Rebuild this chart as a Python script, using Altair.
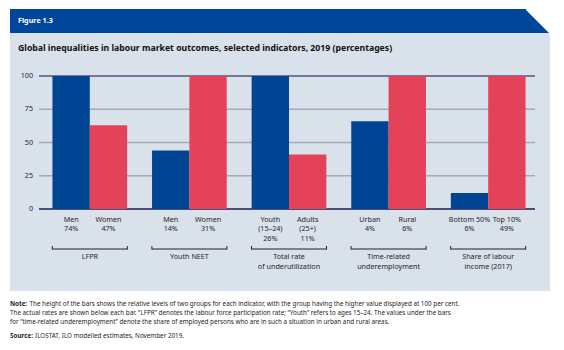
import altair as alt
import pandas as pd

# ---- data ----
groups = ["LFPR", "Youth NEET", "Underutilization", "Time-related", "Labour income"]
group_labels = ["LFPR", "Youth NEET", "Total rate\nof underutilization",
                "Time-related\nunderemployment", "Share of labour\nincome (2017)"]
bar_group = ["LFPR", "LFPR", "Youth NEET", "Youth NEET", "Underutilization", "Underutilization",
             "Time-related", "Time-related", "Labour income", "Labour income"]
bar_side = ["A", "B"] * 5
bar_height = [100, 63, 44, 100, 100, 41, 66, 100, 12, 100]
bar_label = ["Men\n74%", "Women\n47%", "Men\n14%", "Women\n31%",
             "Youth\n(15–24)\n26%", "Adults\n(25+)\n11%", "Urban\n4%", "Rural\n6%",
             "Bottom 50%\n6%", "Top 10%\n49%"]
y_ticks = [0, 25, 50, 75, 100]

bars_df = pd.DataFrame({"group": bar_group, "side": bar_side,
                        "value": bar_height, "label": bar_label})
groups_df = pd.DataFrame({"group": groups, "glabel": group_labels})
ticks_df = pd.DataFrame({"tick": y_ticks})

FONT = "Noto Sans"
PANEL = "#d9e1ea"
BANNER = "#00479b"
BLUE = "#004494"
RED = "#e44258"
TXT = "#262626"

xscale = alt.Scale(domain=groups, range=[40, 538], paddingInner=0.25, paddingOuter=0.125)
yscale = alt.Scale(domain=[0, 100], range=[209, 76])
X = alt.X("group:N", scale=xscale, axis=None)
XO = alt.XOffset("side:N", scale=alt.Scale(domain=["A", "B"], paddingInner=0, paddingOuter=0))
Y = alt.Y("value:Q", scale=yscale, axis=None)

one = alt.Data(values=[{}])

panel = alt.Chart(one).mark_rect(color=PANEL).encode(
    x=alt.value(10), x2=alt.value(550), y=alt.value(33), y2=alt.value(291))
banner = alt.Chart(one).mark_rect(color=BANNER).encode(
    x=alt.value(10), x2=alt.value(526), y=alt.value(9), y2=alt.value(33))
corner = alt.Chart(one).mark_point(
    shape="M-1,-1L1,1L-1,1Z", filled=True, color=BANNER, opacity=1, size=576, strokeWidth=0
).encode(x=alt.value(537), y=alt.value(21))
fig_txt = alt.Chart(one).mark_text(
    text="Figure 1.3", font=FONT, fontSize=7.2, fontWeight="bold", color="white",
    align="left", baseline="middle").encode(x=alt.value(18), y=alt.value(21))
title_txt = alt.Chart(one).mark_text(
    text="Global inequalities in labour market outcomes, selected indicators, 2019 (percentages)",
    font=FONT, fontSize=8.7, fontWeight="bold", color="#111111",
    align="left", baseline="middle").encode(x=alt.value(18), y=alt.value(48))

grid = alt.Chart(ticks_df).mark_rule(color="#a8a6c0", strokeWidth=1.5).encode(
    y=alt.Y("tick:Q", scale=yscale, axis=None), x=alt.value(39), x2=alt.value(535))
grid100 = alt.Chart(ticks_df).transform_filter("datum.tick == 100").mark_rule(
    color="#77759a", strokeWidth=2).encode(
    y=alt.Y("tick:Q", scale=yscale, axis=None), x=alt.value(39), x2=alt.value(535))
grid0 = alt.Chart(ticks_df).transform_filter("datum.tick == 0").mark_rule(
    color="#2d2c5a", strokeWidth=1.5).encode(
    y=alt.Y("tick:Q", scale=yscale, axis=None), x=alt.value(39), x2=alt.value(535))
tick_lbl = alt.Chart(ticks_df).mark_text(
    font=FONT, fontSize=7.2, color=TXT, align="right", baseline="middle").encode(
    y=alt.Y("tick:Q", scale=yscale, axis=None), x=alt.value(33), text="tick:Q")

bars = alt.Chart(bars_df).mark_bar(strokeWidth=0).encode(
    x=X, xOffset=XO, y=Y, y2=alt.datum(0),
    color=alt.Color("side:N", scale=alt.Scale(domain=["A", "B"], range=[BLUE, RED]), legend=None))
bar_lbl = alt.Chart(bars_df).mark_text(
    font=FONT, fontSize=7.2, color=TXT, align="center", baseline="top",
    lineBreak="\n", lineHeight=9.6).encode(
    x=X, xOffset=XO, y=alt.value(215.5), text="label:N")

bracket = alt.Chart(groups_df).mark_rect(color="#222222").encode(
    x=X, y=alt.value(248.6), y2=alt.value(249.6))
tick_l = alt.Chart(groups_df).mark_rule(color="#222222", strokeWidth=1, xOffset=-37.5).encode(
    x=X, y=alt.value(246), y2=alt.value(249.6))
tick_r = alt.Chart(groups_df).mark_rule(color="#222222", strokeWidth=1, xOffset=37.5).encode(
    x=X, y=alt.value(246), y2=alt.value(249.6))
grp_lbl = alt.Chart(groups_df).mark_text(
    font=FONT, fontSize=7.2, color=TXT, align="center", baseline="top",
    lineBreak="\n", lineHeight=9.6).encode(
    x=X, y=alt.value(253), text="glabel:N")

NS = 6.3
def note(txt, x, y, bold=False):
    return alt.Chart(one).mark_text(
        text=txt, font=FONT, fontSize=NS, fontWeight="bold" if bold else "normal",
        color=TXT, align="left", baseline="middle").encode(x=alt.value(x), y=alt.value(y))

notes = [
    note("Note:", 10, 304, True),
    note("The height of the bars shows the relative levels of two groups for each indicator, "
         "with the group having the higher value displayed at 100 per cent.", 29.5, 304),
    note("The actual rates are shown below each bar. “LFPR” denotes the labour force participation "
         "rate; “Youth” refers to ages 15–24. The values under the bars", 10, 313),
    note("for “time-related underemployment” denote the share of employed persons who are in such "
         "a situation in urban and rural areas.", 10, 322),
    note("Source:", 10, 336, True),
    note("ILOSTAT, ILO modelled estimates, November 2019.", 35, 336),
]

chart = alt.layer(
    panel, banner, corner, fig_txt, title_txt,
    grid, grid100, grid0, tick_lbl,
    bars, bar_lbl, bracket, tick_l, tick_r, grp_lbl, *notes
).properties(
    width=564, height=350, padding=0,
    autosize=alt.AutoSizeParams(type="none"),
    background="white"
).configure_view(stroke=None).resolve_scale(x="shared", y="shared")

chart.save("out.html", embed_options={"renderer": "svg", "actions": False})
